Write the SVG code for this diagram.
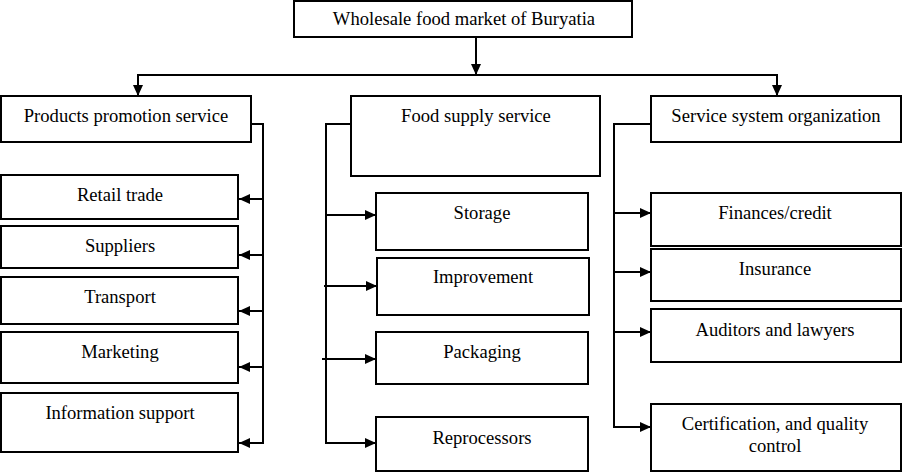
<svg xmlns="http://www.w3.org/2000/svg" width="902" height="472" viewBox="0 0 902 472">
<style>
.box{fill:#fff;stroke:#000;stroke-width:2}
.t{fill:#000;text-anchor:middle}
.ln{fill:none;stroke:#000;stroke-width:2}
</style>
<defs>
<marker id="ah" markerUnits="userSpaceOnUse" markerWidth="12" markerHeight="10" refX="11" refY="5" orient="auto">
<path d="M0,0 L11,5 L0,10 z" fill="#000"/>
</marker>
</defs>
<g id="connectors">
<line class="ln" x1="476" y1="37" x2="476" y2="75" marker-end="url(#ah)"/>
<polyline class="ln" points="138,96 138,75 777,75 777,96"/>
<line class="ln" x1="138" y1="76" x2="138" y2="96" marker-end="url(#ah)"/>
<line class="ln" x1="777" y1="76" x2="777" y2="96" marker-end="url(#ah)"/>
<polyline class="ln" points="251,124 263,124 263,443"/>
<line class="ln" x1="263" y1="199" x2="239" y2="199" marker-end="url(#ah)"/>
<line class="ln" x1="263" y1="255" x2="239" y2="255" marker-end="url(#ah)"/>
<line class="ln" x1="263" y1="311" x2="239" y2="311" marker-end="url(#ah)"/>
<line class="ln" x1="263" y1="367" x2="239" y2="367" marker-end="url(#ah)"/>
<line class="ln" x1="264" y1="443" x2="239" y2="443" marker-end="url(#ah)"/>
<polyline class="ln" points="351,124 326,124 326,443"/>
<line class="ln" x1="326" y1="215" x2="376" y2="215" marker-end="url(#ah)"/>
<line class="ln" x1="324" y1="286" x2="377" y2="286" marker-end="url(#ah)"/>
<line class="ln" x1="322" y1="359" x2="376" y2="359" marker-end="url(#ah)"/>
<line class="ln" x1="325" y1="443" x2="376" y2="443" marker-end="url(#ah)"/>
<polyline class="ln" points="651,124 614,124 614,427"/>
<line class="ln" x1="614" y1="213" x2="651" y2="213" marker-end="url(#ah)"/>
<line class="ln" x1="614" y1="272" x2="651" y2="272" marker-end="url(#ah)"/>
<line class="ln" x1="614" y1="332" x2="651" y2="332" marker-end="url(#ah)"/>
<line class="ln" x1="613" y1="427" x2="651" y2="427" marker-end="url(#ah)"/>
</g>
<g id="nodes" font-family="Liberation Serif, Times New Roman, serif" font-size="18.6">
<g id="root"><rect class="box" x="294" y="1" width="338" height="36"/><text class="t" x="464" y="25">Wholesale food market of Buryatia</text></g>
<g id="promo"><rect class="box" x="1" y="96" width="250" height="46"/><text class="t" x="126" y="122">Products promotion service</text></g>
<g id="supply"><rect class="box" x="351" y="96" width="249" height="80"/><text class="t" x="476" y="122">Food supply service</text></g>
<g id="sso"><rect class="box" x="651" y="96" width="250" height="46"/><text class="t" x="776" y="122">Service system organization</text></g>
<g id="retail"><rect class="box" x="1" y="175" width="237" height="44"/><text class="t" x="120" y="201">Retail trade</text></g>
<g id="suppliers"><rect class="box" x="1" y="226" width="237" height="42"/><text class="t" x="120" y="252">Suppliers</text></g>
<g id="transport"><rect class="box" x="1" y="277" width="237" height="47"/><text class="t" x="120" y="303">Transport</text></g>
<g id="marketing"><rect class="box" x="1" y="332" width="237" height="51"/><text class="t" x="120" y="358">Marketing</text></g>
<g id="info"><rect class="box" x="1" y="393" width="237" height="59"/><text class="t" x="120" y="419">Information support</text></g>
<g id="storage"><rect class="box" x="376" y="193" width="212" height="57"/><text class="t" x="482" y="219">Storage</text></g>
<g id="improvement"><rect class="box" x="377" y="258" width="212" height="57"/><text class="t" x="483" y="283">Improvement</text></g>
<g id="packaging"><rect class="box" x="376" y="332" width="212" height="52"/><text class="t" x="482" y="358">Packaging</text></g>
<g id="reprocessors"><rect class="box" x="376" y="417" width="212" height="54"/><text class="t" x="482" y="444">Reprocessors</text></g>
<g id="finances"><rect class="box" x="651" y="193" width="250" height="53"/><text class="t" x="775" y="219">Finances/credit</text></g>
<g id="insurance"><rect class="box" x="651" y="249" width="250" height="52"/><text class="t" x="775" y="275">Insurance</text></g>
<g id="auditors"><rect class="box" x="651" y="309" width="250" height="53"/><text class="t" x="775" y="336">Auditors and lawyers</text></g>
<g id="cert"><rect class="box" x="651" y="404" width="250" height="67"/><text class="t" x="775" y="430">Certification, and quality</text><text class="t" x="775" y="452">control</text></g>
</g>
</svg>
